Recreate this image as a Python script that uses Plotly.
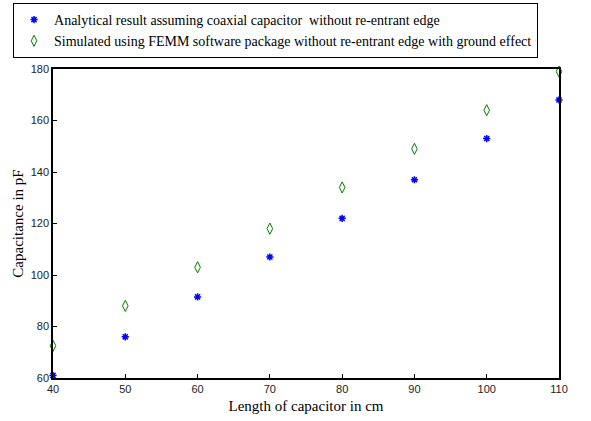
import plotly.graph_objects as go

length_cm = [40, 50, 60, 70, 80, 90, 100, 110]
analytical_pF = [61, 76, 91.5, 107, 122, 137, 153, 168]
simulated_pF = [72.5, 88, 103, 118, 134, 149, 164, 179]

fig = go.Figure()
fig.add_trace(go.Scatter(
    x=length_cm, y=analytical_pF, mode="markers",
    name="Analytical result assuming coaxial capacitor  without re-entrant edge",
    marker=dict(symbol="asterisk-open", size=6, color="#0000ff",
                line=dict(color="#0000ff", width=1.5)),
    cliponaxis=False,
))
fig.add_trace(go.Scatter(
    x=length_cm, y=simulated_pF, mode="markers",
    name="Simulated using FEMM software package without re-entrant edge with ground effect",
    marker=dict(symbol="diamond-tall-open", size=8, color="#008000",
                line=dict(color="#008000", width=1)),
    cliponaxis=False,
))

axis_common = dict(
    showgrid=False, zeroline=False, showline=True, linecolor="black", linewidth=1.5,
    mirror=True, ticks="inside", ticklen=4, tickcolor="black",
    tickfont=dict(family="Liberation Sans, Arial", size=11, color="#222"),
)
fig.update_xaxes(range=[40, 110], tickvals=[40, 50, 60, 70, 80, 90, 100, 110],
                 title=dict(text="Length of capacitor in cm", standoff=7,
                            font=dict(family="Liberation Serif, Times New Roman", size=15, color="black")),
                 **axis_common)
fig.update_yaxes(range=[60, 180], tickvals=[60, 80, 100, 120, 140, 160, 180],
                 title=dict(text="Capacitance in pF", standoff=3,
                            font=dict(family="Liberation Serif, Times New Roman", size=15, color="black")),
                 **axis_common)

fig.update_layout(
    width=591, height=421,
    margin=dict(l=53, r=32, t=69, b=43, autoexpand=False),
    paper_bgcolor="white", plot_bgcolor="white",
    showlegend=True,
    legend=dict(
        x=-0.079, xanchor="left", y=1.2136, yanchor="top",
        bordercolor="black", borderwidth=1, bgcolor="white",
        font=dict(family="Liberation Serif, Times New Roman", size=14, color="black"),
        tracegroupgap=0, itemsizing="trace",
    ),
)

fig.write_html("out.html")
